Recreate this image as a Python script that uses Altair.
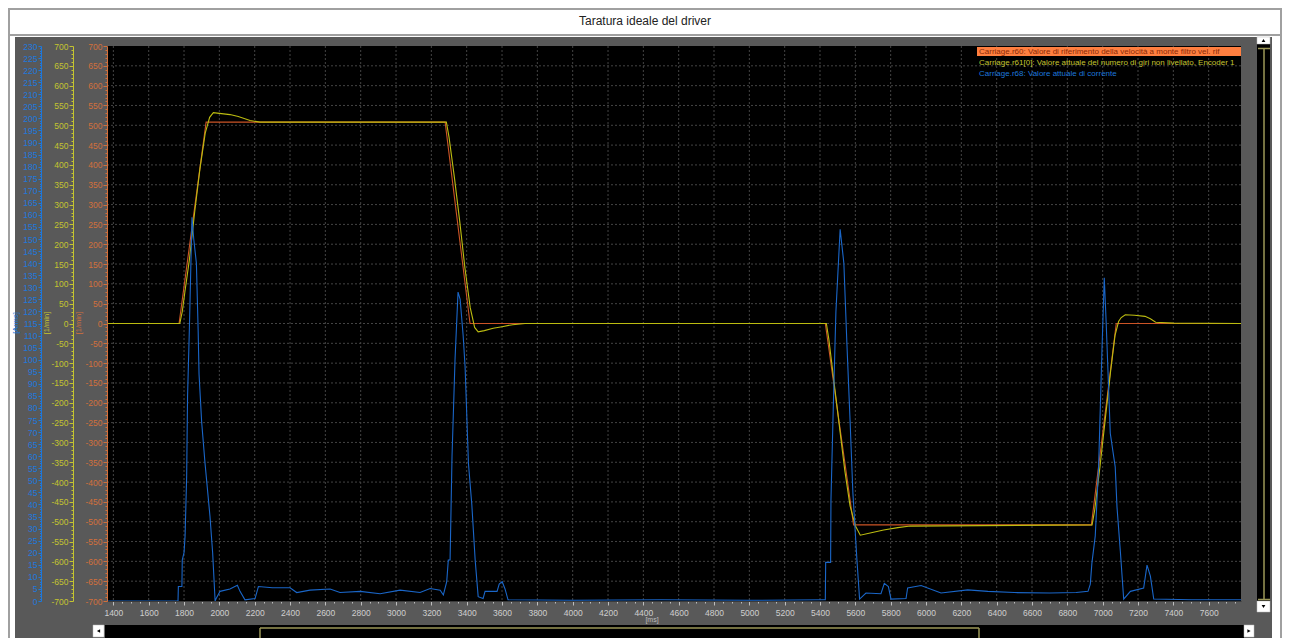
import altair as alt
import pandas as pd

# ---------------- texts ----------------
TITLE = "Taratura ideale del driver"
SERIES = [
    "Carriage.r60: Valore di riferimento della velocità a monte filtro vel. rif",
    "Carriage.r61[0]: Valore attuale del numero di giri non livellato, Encoder 1",
    "Carriage.r68: Valore attuale di corrente",
]
UNIT_SPEED = "[1/min]"
UNIT_CURR = "[Arms]"
UNIT_TIME = "[ms]"

# ---------------- domains / ticks ----------------
X_DOMAIN = [1364, 7783]
SPEED_DOMAIN = [-700, 700]
CURR_DOMAIN = [0, 230]
x_ticks = list(range(1400, 7800, 50))
speed_ticks = list(range(-700, 701, 10))
curr_ticks = list(range(0, 231, 1))
grid_x = list(range(1400, 7700, 200))
grid_y = list(range(-650, 700, 50))

# ---------------- series ----------------
ref_t = [1364, 1772, 1925, 3278, 3419, 5430, 5590, 6936, 7077, 7783]
ref_v = [0, 0, 508, 508, 0, 0, -508, -508, 0, 0]

act_t = [1364, 1776, 1790, 1805, 1830, 1860, 1890, 1920, 1945, 1966,
         2000, 2060, 2107, 2174, 2230, 2400, 3285, 3300, 3330, 3360,
         3390, 3420, 3445, 3465, 3500, 3550, 3600, 3660, 3730, 5436,
         5450, 5480, 5510, 5540, 5570, 5600, 5628, 5690, 5760, 5840,
         5911, 6940, 6955, 6985, 7015, 7045, 7070, 7090, 7105, 7128,
         7180, 7240, 7270, 7300, 7400, 7783]
act_v = [0, 0, 30, 80, 160, 280, 390, 480, 520, 532,
         530, 527, 522, 512, 508, 508, 508, 470, 370, 260,
         140, 40, -10, -21, -18, -12, -8, -3, 0, 0,
         -40, -150, -260, -370, -460, -510, -534, -528, -521, -515,
         -511, -508, -470, -360, -240, -120, -30, 5, 15, 22,
         21, 18, 12, 3, 1, 0]

cur_t = [1364, 1766, 1768, 1788, 1790, 1800, 1806, 1815, 1820, 1830,
         1845, 1855, 1870, 1880, 1885, 1900, 1919, 1947, 1962, 1976,
         1985, 2004, 2060, 2102, 2117, 2145, 2202, 2221, 2300, 2400,
         2438, 2513, 2627, 2683, 2797, 2910, 3023, 3136, 3193, 3250,
         3268, 3287, 3296, 3306, 3317, 3334, 3351, 3363, 3380, 3391,
         3410, 3429, 3448, 3465, 3493, 3504, 3572, 3584, 3601, 3617,
         3634, 4000, 4500, 5000, 5420, 5430, 5432, 5460, 5462, 5475,
         5490, 5514, 5535, 5552, 5570, 5586, 5609, 5624, 5660, 5745,
         5764, 5787, 5802, 5887, 5896, 5972, 6085, 6236, 6350, 6500,
         6700, 6850, 6917, 6930, 6939, 6958, 6977, 6996, 7009, 7020,
         7043, 7071, 7081, 7100, 7119, 7157, 7232, 7251, 7270, 7289,
         7500, 7783]
cur_v = [0, 0, 6, 6, 17, 20, 27, 52, 85, 112,
         159, 150, 140, 112, 94, 74, 57, 35, 20, 0,
         1.5, 4, 5, 6.5, 4, 0.5, 1, 6, 5.5, 5.5,
         3.5, 4.5, 5, 3.5, 4, 3, 4.5, 3.5, 5.2, 4.5,
         2.5, 8, 17, 17, 60, 100, 128, 125, 110, 97,
         57, 40, 17, 1.8, 1, 4, 4, 7, 8, 5,
         0.5, 0.3, 0.5, 0.3, 0.5, 0.5, 16, 16, 42, 80,
         120, 154, 140, 107, 75, 45, 17, 0.8, 3.3, 3,
         7.3, 6, 0.8, 1, 5.4, 6.4, 3.3, 4.6, 4, 3.5,
         3.3, 3.5, 4, 7, 15.7, 27, 55.6, 104, 134, 115,
         69.5, 55.6, 39, 20.6, 0.8, 4, 5.4, 14.9, 10.3, 0.8,
         0.5, 0.5]

# ---------------- style ----------------
W, H = 1134, 555
FONT = "Liberation Sans"
C_ORANGE = "#cc5426"
C_ORANGE_AX = "#d2703c"
C_YELLOW = "#bcbc10"
C_YELLOW_AX = "#c4c430"
C_BLUE = "#1a66c8"
C_BLUE_AX = "#1e78dc"
C_PANEL = "#595959"
C_GRID = "#444444"
C_OLIVE = "#9c9858"

x_scale = alt.Scale(domain=X_DOMAIN, nice=False, zero=False)
speed_scale = alt.Scale(domain=SPEED_DOMAIN, nice=False, zero=False)
curr_scale = alt.Scale(domain=CURR_DOMAIN, nice=False, zero=False)

one = pd.DataFrame({"k": [0]})


def box(x1, x2, y1, y2, fill, **kw):
    return alt.Chart(one).mark_rect(fill=fill, **kw).encode(
        x=alt.value(x1), x2=alt.value(x2), y=alt.value(y1), y2=alt.value(y2))


def hline(x1, x2, y, color, width=1.0):
    return alt.Chart(one).mark_rule(color=color, strokeWidth=width).encode(
        x=alt.value(x1), x2=alt.value(x2), y=alt.value(y))


def vline(x, y1, y2, color, width=1.0):
    return alt.Chart(one).mark_rule(color=color, strokeWidth=width).encode(
        x=alt.value(x), y=alt.value(y1), y2=alt.value(y2))


def tri(x, y, shape):
    return alt.Chart(one).mark_point(shape=shape, filled=True, color="black", size=14, opacity=1).encode(
        x=alt.value(x), y=alt.value(y))


def txt(x, y, s, color, size, **kw):
    return alt.Chart(one).mark_text(text=s, color=color, fontSize=size, font=FONT, **kw).encode(
        x=alt.value(x), y=alt.value(y))


def speed_axis(offset, color):
    return alt.Axis(
        orient="left", offset=offset, values=speed_ticks,
        labelExpr="datum.value % 50 == 0 ? '' + datum.value : ''",
        tickSize={"condition": {"test": "datum.value % 50 == 0", "value": 4}, "value": 2},
        labelColor=color, tickColor=color, domainColor=color,
        labelFont=FONT, labelFontSize=8.5, labelPadding=1,
        labelOverlap=False, grid=False, title=None, zindex=1)


x_axis = alt.Axis(
    orient="bottom", values=x_ticks,
    labelExpr="datum.value % 200 == 0 ? '' + datum.value : ''",
    tickSize={"condition": {"test": "datum.value % 200 == 0", "value": 4}, "value": 2},
    labelColor="#cfcfcf", tickColor="#bdbdbd", domainColor="#3a3a3a",
    labelFont=FONT, labelFontSize=8.5, labelPadding=3, labelFlush=False,
    labelOverlap=False, grid=False, title=None, zindex=1)

curr_axis = alt.Axis(
    orient="left", offset=66, values=curr_ticks,
    labelExpr="datum.value % 5 == 0 ? '' + datum.value : ''",
    tickSize={"condition": {"test": "datum.value % 5 == 0", "value": 3}, "value": 1.5},
    labelColor=C_BLUE_AX, tickColor=C_BLUE_AX, domainColor=C_BLUE_AX,
    labelFont=FONT, labelFontSize=8.5, labelPadding=1,
    labelOverlap=False, grid=False, title=None, zindex=1)

# ---------------- frame ----------------
layers = [
    box(-98, 1174, -37, 594, "white", stroke="#a0a0a0", strokeWidth=2),
    box(-98, 1174, -12, -10, "#a0a0a0"),
    txt(538, -25, TITLE, "#222222", 12),
    box(-92, 1165, -9, 594, C_PANEL),
    box(0, W, 0, H, "black"),
]

# grid
layers.append(
    alt.Chart(pd.DataFrame({"g": grid_x})).mark_rule(color=C_GRID, strokeDash=[2, 2], strokeWidth=1).encode(
        x=alt.X("g:Q", scale=x_scale, axis=x_axis), y=alt.value(0), y2=alt.value(H)))
layers.append(
    alt.Chart(pd.DataFrame({"g": grid_y})).mark_rule(color=C_GRID, strokeDash=[2, 2], strokeWidth=1).encode(
        y=alt.Y("g:Q", scale=speed_scale, axis=None), x=alt.value(0), x2=alt.value(W)))

# series
ref_df = pd.DataFrame({"t": ref_t, "v": ref_v})
act_df = pd.DataFrame({"t": act_t, "v": act_v})
cur_df = pd.DataFrame({"t": cur_t, "v": cur_v})

layers.append(
    alt.Chart(ref_df).mark_line(color=C_ORANGE, strokeWidth=1.1, clip=True).encode(
        x=alt.X("t:Q", scale=x_scale, axis=x_axis),
        y=alt.Y("v:Q", scale=speed_scale, axis=speed_axis(0, C_ORANGE_AX))))
layers.append(
    alt.Chart(act_df).mark_line(color=C_YELLOW, strokeWidth=1.1, clip=True).encode(
        x=alt.X("t:Q", scale=x_scale, axis=x_axis),
        y=alt.Y("v:Q", scale=speed_scale, axis=speed_axis(34, C_YELLOW_AX))))
layers.append(
    alt.Chart(cur_df).mark_line(color=C_BLUE, strokeWidth=1.1, clip=True).encode(
        x=alt.X("t:Q", scale=x_scale, axis=x_axis),
        y=alt.Y("v:Q", scale=curr_scale, axis=curr_axis)))

# legend
layers.append(box(870, W, 1, 10, "#ff7f40"))
leg_colors = ["#8a2a06", C_YELLOW_AX, C_BLUE_AX]
for i, s in enumerate(SERIES):
    layers.append(txt(872, 5.5 + 11 * i, s, leg_colors[i], 8, align="left", baseline="middle"))

# axis titles
layers.append(txt(-28, 277, UNIT_SPEED, C_ORANGE_AX, 7.5, angle=270, baseline="middle"))
layers.append(txt(-60, 277, UNIT_SPEED, C_YELLOW_AX, 7.5, angle=270, baseline="middle"))
layers.append(txt(-91, 277, UNIT_CURR, C_BLUE_AX, 7.5, angle=270, baseline="middle"))
layers.append(txt(545, 574, UNIT_TIME, "#bdbdbd", 7, baseline="middle"))

# right scrollbar
layers += [
    box(1150, 1163, -2, 555, "black"),
    box(1150, 1163, -9, -2, "white", stroke="#bbbbbb", strokeWidth=0.5),
    box(1150, 1163, 555, 566, "white", stroke="#bbbbbb", strokeWidth=0.5),
    tri(1156.5, -5.5, "triangle-up"),
    tri(1156.5, 560.5, "triangle-down"),
    vline(1157, 3, 553, C_OLIVE, 1.5),
    hline(1151, 1163, 2.5, C_OLIVE, 1.5),
    hline(1151, 1163, 553.5, C_OLIVE, 1.5),
]
# bottom scrollbar
layers += [
    box(-2, 1137, 579, 594, "black"),
    box(-14, -3, 579, 591, "white", stroke="#bbbbbb", strokeWidth=0.5),
    box(1137, 1147, 579, 591, "white", stroke="#bbbbbb", strokeWidth=0.5),
    tri(-8.5, 585, "triangle-left"),
    tri(1142, 585, "triangle-right"),
    hline(153, 872, 582, C_OLIVE, 1.5),
    vline(153, 582, 594, C_OLIVE, 1.5),
    vline(872, 582, 594, C_OLIVE, 1.5),
]

chart = alt.layer(*layers).resolve_scale(y="independent").properties(
    width=W, height=H,
    autosize=alt.AutoSizeParams(type="none"),
    padding={"left": 99, "top": 38, "right": 41, "bottom": 37},
    background="white",
).configure_view(stroke=None).configure_axis(zindex=1)

chart.save("out.html", embed_options={"renderer": "svg", "actions": False})
